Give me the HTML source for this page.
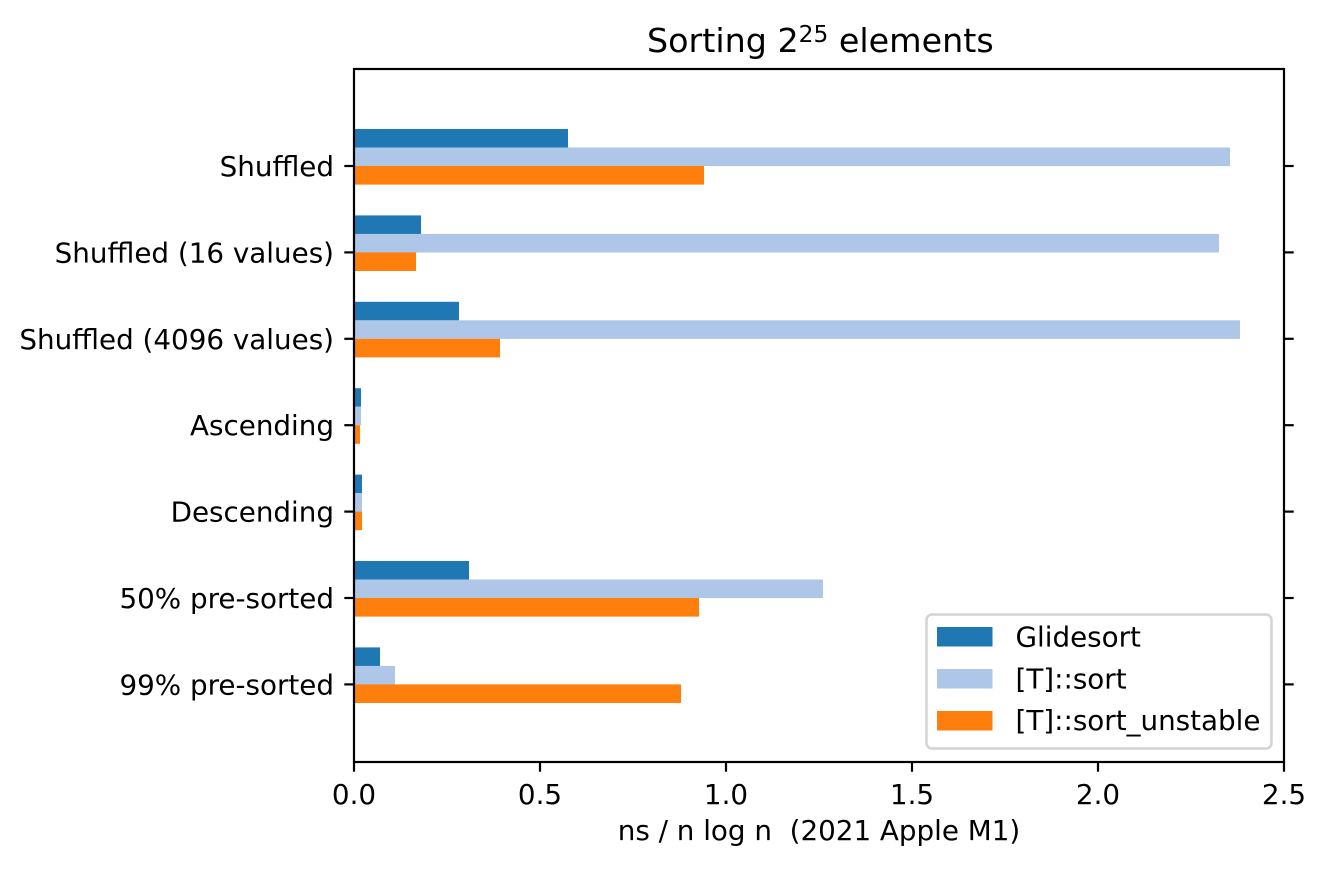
<!DOCTYPE html>
<html>
<head>
<meta charset="utf-8">
<style>
  html, body { margin: 0; padding: 0; background: #ffffff; }
  body { width: 1325px; height: 869px; overflow: hidden; }
  svg { display: block; }
  text { font-family: "DejaVu Sans", "Liberation Sans", sans-serif; fill: #000; }
</style>
</head>
<body>
<svg width="1325" height="869" viewBox="0 0 1325 869" xmlns="http://www.w3.org/2000/svg">
  <rect x="0" y="0" width="1325" height="869" fill="#ffffff"/>

  <!-- Bars: group centers c = 166 + 86.4*i -->
  <!-- Shuffled c=166 -->
  <rect x="354" y="129" width="214" height="18.6" fill="#1f77b4"/>
  <rect x="354" y="147.5" width="876" height="18.6" fill="#aec7e8"/>
  <rect x="354" y="166" width="350" height="18.6" fill="#ff7f0e"/>
  <!-- Shuffled (16 values) c=252.4 -->
  <rect x="354" y="215.4" width="67" height="18.6" fill="#1f77b4"/>
  <rect x="354" y="233.9" width="865" height="18.6" fill="#aec7e8"/>
  <rect x="354" y="252.4" width="62" height="18.6" fill="#ff7f0e"/>
  <!-- Shuffled (4096 values) c=338.8 -->
  <rect x="354" y="301.8" width="105" height="18.6" fill="#1f77b4"/>
  <rect x="354" y="320.3" width="886" height="18.6" fill="#aec7e8"/>
  <rect x="354" y="338.8" width="146" height="18.6" fill="#ff7f0e"/>
  <!-- Ascending c=425.2 -->
  <rect x="354" y="388.2" width="7" height="18.6" fill="#1f77b4"/>
  <rect x="354" y="406.7" width="7" height="18.6" fill="#aec7e8"/>
  <rect x="354" y="425.2" width="6" height="18.6" fill="#ff7f0e"/>
  <!-- Descending c=511.6 -->
  <rect x="354" y="474.6" width="8" height="18.6" fill="#1f77b4"/>
  <rect x="354" y="493.1" width="8" height="18.6" fill="#aec7e8"/>
  <rect x="354" y="511.6" width="8" height="18.6" fill="#ff7f0e"/>
  <!-- 50% pre-sorted c=598 -->
  <rect x="354" y="561" width="115" height="18.6" fill="#1f77b4"/>
  <rect x="354" y="579.5" width="469" height="18.6" fill="#aec7e8"/>
  <rect x="354" y="598" width="345" height="18.6" fill="#ff7f0e"/>
  <!-- 99% pre-sorted c=684.4 -->
  <rect x="354" y="647.4" width="26" height="18.6" fill="#1f77b4"/>
  <rect x="354" y="665.9" width="41" height="18.6" fill="#aec7e8"/>
  <rect x="354" y="684.4" width="327" height="18.6" fill="#ff7f0e"/>

  <!-- Spines -->
  <rect x="354" y="69" width="930" height="693" fill="none" stroke="#000" stroke-width="2.2" stroke-linejoin="miter"/>

  <!-- Y ticks left and right -->
  <g stroke="#000" stroke-width="2.2">
    <line x1="344.3" y1="166" x2="354" y2="166"/>
    <line x1="344.3" y1="252.4" x2="354" y2="252.4"/>
    <line x1="344.3" y1="338.8" x2="354" y2="338.8"/>
    <line x1="344.3" y1="425.2" x2="354" y2="425.2"/>
    <line x1="344.3" y1="511.6" x2="354" y2="511.6"/>
    <line x1="344.3" y1="598" x2="354" y2="598"/>
    <line x1="344.3" y1="684.4" x2="354" y2="684.4"/>

    <line x1="1284" y1="166" x2="1293.7" y2="166"/>
    <line x1="1284" y1="252.4" x2="1293.7" y2="252.4"/>
    <line x1="1284" y1="338.8" x2="1293.7" y2="338.8"/>
    <line x1="1284" y1="425.2" x2="1293.7" y2="425.2"/>
    <line x1="1284" y1="511.6" x2="1293.7" y2="511.6"/>
    <line x1="1284" y1="598" x2="1293.7" y2="598"/>
    <line x1="1284" y1="684.4" x2="1293.7" y2="684.4"/>

    <!-- X ticks -->
    <line x1="354" y1="762" x2="354" y2="771.7"/>
    <line x1="540" y1="762" x2="540" y2="771.7"/>
    <line x1="726" y1="762" x2="726" y2="771.7"/>
    <line x1="912" y1="762" x2="912" y2="771.7"/>
    <line x1="1098" y1="762" x2="1098" y2="771.7"/>
    <line x1="1284" y1="762" x2="1284" y2="771.7"/>
  </g>

  <!-- Y tick labels -->
  <g font-size="27.78" text-anchor="end">
    <text x="334" y="176">Shuffled</text>
    <text x="334" y="262.4">Shuffled (16 values)</text>
    <text x="334" y="348.8">Shuffled (4096 values)</text>
    <text x="334" y="435.2">Ascending</text>
    <text x="334" y="521.6">Descending</text>
    <text x="334" y="608">50% pre-sorted</text>
    <text x="334" y="694.4">99% pre-sorted</text>
  </g>

  <!-- X tick labels -->
  <g font-size="27.78" text-anchor="middle">
    <text x="354" y="804">0.0</text>
    <text x="540" y="804">0.5</text>
    <text x="726" y="804">1.0</text>
    <text x="912" y="804">1.5</text>
    <text x="1098" y="804">2.0</text>
    <text x="1284" y="804">2.5</text>
  </g>

  <!-- X label -->
  <text x="819" y="840" font-size="27.78" text-anchor="middle" xml:space="preserve" style="white-space:pre">ns / n log n  (2021 Apple M1)</text>

  <!-- Title -->
  <text x="647" y="52" font-size="33.33" xml:space="preserve" style="white-space:pre">Sorting 2<tspan font-size="23.3" dy="-10">25</tspan><tspan dy="10"> elements</tspan></text>

  <!-- Legend -->
  <rect x="926.5" y="614.5" width="345" height="134" rx="5.5" ry="5.5" fill="#ffffff" fill-opacity="0.8" stroke="#d4d4d4" stroke-width="2.5"/>
  <rect x="937" y="627" width="55.5" height="19.5" fill="#1f77b4"/>
  <rect x="937" y="669" width="55.5" height="19.5" fill="#aec7e8"/>
  <rect x="937" y="711" width="55.5" height="19.5" fill="#ff7f0e"/>
  <g font-size="27.78">
    <text x="1015.5" y="646.5">Glidesort</text>
    <text x="1015.5" y="688.5">[T]::sort</text>
    <text x="1015.5" y="730">[T]::sort_unstable</text>
  </g>
</svg>
</body>
</html>
